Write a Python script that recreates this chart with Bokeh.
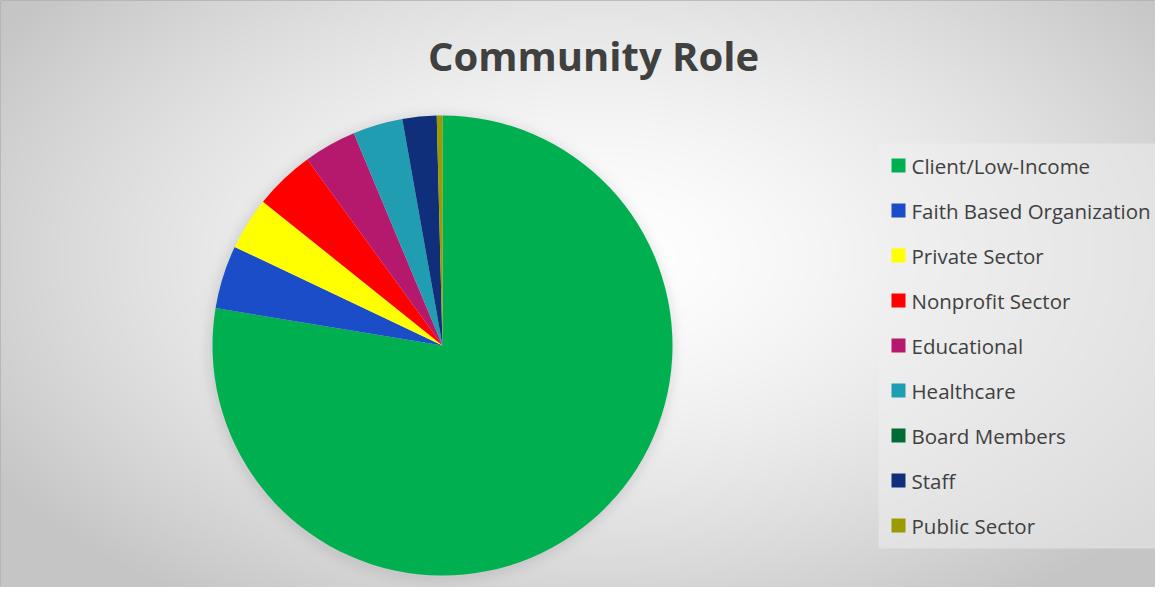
import numpy as np
from bokeh.plotting import figure
from bokeh.models import ColumnDataSource, Range1d
from bokeh.core.properties import value
from bokeh.embed import file_html
from bokeh.resources import INLINE

# ---- data ----
categories = ["Client/Low-Income", "Faith Based Organization", "Private Sector",
              "Nonprofit Sector", "Educational", "Healthcare", "Board Members",
              "Staff", "Public Sector"]
shares = [77.6, 4.45, 3.7, 4.25, 3.7, 3.5, 0.0, 2.4, 0.4]
colors = ["#00B050", "#1C4DC8", "#FFFF00", "#FF0000", "#B5196E", "#209DB0",
          "#006B35", "#0F2F7A", "#9B9B00"]
title_text = "Community Role"

W, H = 1155, 587
p = figure(width=W, height=H, output_backend="svg", toolbar_location=None,
           x_range=Range1d(0, W), y_range=Range1d(0, H), min_border=0)
p.axis.visible = False
p.grid.visible = False
p.outline_line_color = "#b0b0b0"
p.background_fill_color = "#e6e6e6"
p.border_fill_color = "#ffffff"

# background radial gradient (decoration)
gw, gh = W // 2, H // 2
gx = np.linspace(0, W, gw)
gy = np.linspace(0, H, gh)
X, Y = np.meshgrid(gx, gy)
r = np.sqrt(((X - 600) / 720.0) ** 2 + ((Y - 330) / 420.0) ** 2)
v = (255 - 58 * np.clip(r, 0, 1) ** 1.5).astype(np.uint8)
img = np.empty((gh, gw), dtype=np.uint32)
view = img.view(dtype=np.uint8).reshape((gh, gw, 4))
view[:, :, 0] = v
view[:, :, 1] = v
view[:, :, 2] = v
view[:, :, 3] = 255
p.image_rgba(image=[img], x=0, y=0, dw=W, dh=H)

# pie
vals = np.array(shares, dtype=float)
frac = vals / vals.sum()
cum = np.concatenate([[0], np.cumsum(frac)])
start = np.pi / 2 - cum[:-1] * 2 * np.pi
end = np.pi / 2 - cum[1:] * 2 * np.pi
keep = vals > 0
src = ColumnDataSource(dict(start=start[keep], end=end[keep],
                            color=[c for c, k in zip(colors, keep) if k]))
cx, cy, rad = 442, 242, 230
# soft shadow
for i, a in enumerate([0.06, 0.045, 0.03, 0.02, 0.012]):
    p.circle(x=cx - 1, y=cy - 2, radius=rad + 2 + 3 * i, fill_color="#808080",
             fill_alpha=a, line_color=None)
p.wedge(x=cx, y=cy, radius=rad, start_angle="start", end_angle="end",
        direction="clock", fill_color="color", line_color=None, source=src)

# title
p.text(x=[593], y=[532], text=[title_text], text_font=value("Open Sans"),
       text_font_style="bold", text_font_size="40px", text_color="#404040",
       text_align="center", text_baseline="middle")

# legend box
p.quad(left=[878], right=[1155], bottom=[39], top=[444], fill_color="#f0f0f0",
       fill_alpha=0.5, line_color=None)
n = len(categories)
ly = [422 - 45 * i for i in range(n)]
p.rect(x=[898] * n, y=ly, width=14, height=14, fill_color=colors, line_color=None)
p.text(x=[911] * n, y=ly, text=categories, text_font=value("Open Sans"),
       text_font_size="20.5px", text_color="#404040", text_baseline="middle")

open("out.html", "w").write(file_html(p, INLINE))
